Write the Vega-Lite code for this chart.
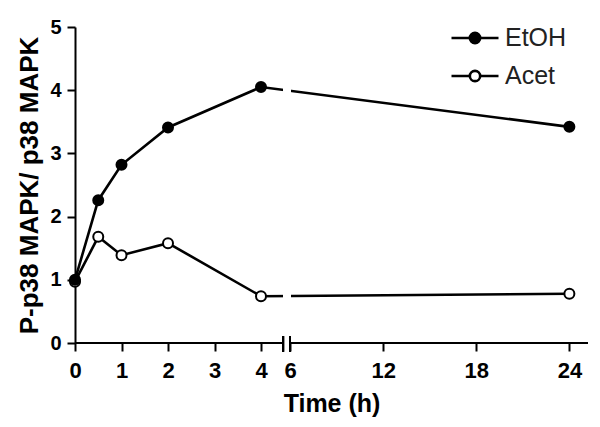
{
  "$schema": "https://vega.github.io/schema/vega-lite/v6.json",
  "width": 513,
  "height": 316,
  "autosize": {"type": "none"},
  "padding": {"left": 75, "top": 27, "right": 12, "bottom": 84},
  "config": {"view": {"stroke": null}, "font": "Liberation Sans"},
  "data": {
    "values": [
      {"series": "Acet", "time": 0, "value": 0.97},
      {"series": "Acet", "time": 0.5, "value": 1.68},
      {"series": "Acet", "time": 1, "value": 1.39},
      {"series": "Acet", "time": 2, "value": 1.58},
      {"series": "Acet", "time": 4, "value": 0.74},
      {"series": "Acet", "time": 24, "value": 0.78},
      {"series": "EtOH", "time": 0, "value": 1.0},
      {"series": "EtOH", "time": 0.5, "value": 2.26},
      {"series": "EtOH", "time": 1, "value": 2.82},
      {"series": "EtOH", "time": 2, "value": 3.41},
      {"series": "EtOH", "time": 4, "value": 4.05},
      {"series": "EtOH", "time": 24, "value": 3.42}
    ]
  },
  "layer": [
    {
      "mark": {"type": "line", "color": "black", "strokeWidth": 2.6},
      "encoding": {
        "x": {
          "field": "time", "type": "quantitative",
          "scale": {"domain": [0, 4, 6, 25.2], "range": [0, 186, 215, 513], "nice": false, "zero": false},
          "axis": {
            "title": "Time (h)", "values": [0, 1, 2, 3, 4, 6, 12, 18, 24], "format": "d",
            "domain": false, "grid": false,
            "ticks": true, "tickSize": 8, "tickWidth": 2, "tickColor": "black",
            "labelFont": "Liberation Sans", "labelFontWeight": "bold", "labelFontSize": 22, "labelColor": "black",
            "labelPadding": 9, "labelFlush": false,
            "titleFont": "Liberation Sans", "titleFontWeight": "bold", "titleFontSize": 25, "titleColor": "black", "titlePadding": 10
          }
        },
        "y": {
          "field": "value", "type": "quantitative",
          "scale": {"domain": [0, 5], "nice": false},
          "axis": {
            "title": "P-p38 MAPK/ p38 MAPK", "values": [0, 1, 2, 3, 4, 5], "format": "d",
            "domain": true, "domainWidth": 2, "domainColor": "black", "grid": false,
            "ticks": true, "tickSize": 8, "tickWidth": 2, "tickColor": "black",
            "labelFont": "Liberation Sans", "labelFontWeight": "bold", "labelFontSize": 20, "labelColor": "black",
            "labelPadding": 6, "labelFlush": false,
            "titleFont": "Liberation Sans", "titleFontWeight": "bold", "titleFontSize": 26, "titleColor": "black", "titlePadding": 7
          }
        },
        "detail": {"field": "series", "type": "nominal"}
      }
    },
    {
      "mark": {"type": "rect", "color": "white"},
      "encoding": {
        "x": {"datum": 5.52}, "x2": {"datum": 6.04},
        "y": {"datum": 0.15}, "y2": {"datum": 4.95}
      }
    },
    {
      "mark": {"type": "point", "filled": true, "size": 100, "stroke": "black", "strokeWidth": 2, "opacity": 1},
      "encoding": {
        "x": {"field": "time", "type": "quantitative"},
        "y": {"field": "value", "type": "quantitative"},
        "fill": {
          "field": "series", "type": "nominal",
          "scale": {"domain": ["EtOH", "Acet"], "range": ["black", "white"]},
          "legend": {
            "orient": "none", "legendX": 375, "legendY": -14, "title": null,
            "symbolType": "M-1,0H-0.22M0.22,0H1M-0.22,0A0.22,0.22 0 1,1 0.22,0A0.22,0.22 0 1,1 -0.22,0Z",
            "symbolSize": 2209, "symbolStrokeColor": "black", "symbolStrokeWidth": 2.6,
            "labelFontSize": 25, "labelFont": "Liberation Sans", "labelColor": "#222",
            "labelOffset": 5, "rowPadding": -3
          }
        }
      }
    },
    {
      "mark": {"type": "rule", "color": "black", "strokeWidth": 2},
      "encoding": {"x": {"datum": 0}, "x2": {"datum": 5.52}, "y": {"datum": 0}}
    },
    {
      "mark": {"type": "rule", "color": "black", "strokeWidth": 2},
      "encoding": {"x": {"datum": 6}, "x2": {"datum": 25.2}, "y": {"datum": 0}}
    },
    {
      "mark": {"type": "rule", "color": "black", "strokeWidth": 2},
      "encoding": {"x": {"datum": 5.52}, "y": {"datum": 0.11}, "y2": {"datum": -0.14}}
    },
    {
      "mark": {"type": "rule", "color": "black", "strokeWidth": 2},
      "encoding": {"x": {"datum": 6}, "y": {"datum": 0.11}, "y2": {"datum": -0.14}}
    }
  ]
}
